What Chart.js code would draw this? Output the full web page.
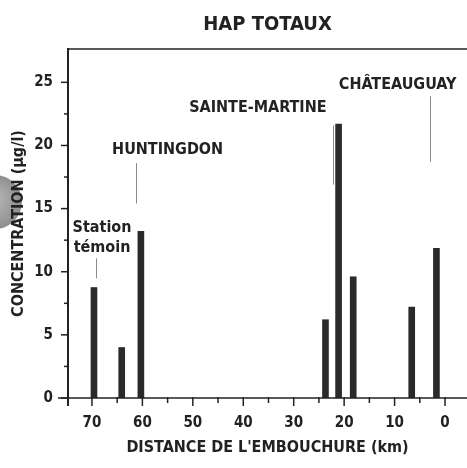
<!DOCTYPE html>
<html>
<head>
<meta charset="utf-8">
<script src="https://cdn.jsdelivr.net/npm/chart.js@4/dist/chart.umd.min.js"></script>
<style>
  html, body { margin: 0; padding: 0; background: #fff; }
  #wrap { width: 467px; height: 468px; position: relative; }
</style>
</head>
<body>
<div id="wrap"><canvas id="myChart"></canvas></div>
<script>
// distance from the river mouth (km) and total PAH concentration (ug/l)
const distanceKm = [69.6, 64.1, 60.3, 23.7, 21.1, 18.2, 6.6, 1.7];
const concentration = [8.75, 4.0, 13.2, 6.2, 21.7, 9.6, 7.2, 11.85];

const xTicks = [70, 60, 50, 40, 30, 20, 10, 0];
const yTicks = [0, 5, 10, 15, 20, 25];

// site labels, with text anchor and leader line in data units
const siteNames = [['Station', 'témoin'], ['HUNTINGDON'], ['SAINTE-MARTINE'], ['CHÂTEAUGUAY']];
const siteLabelKm = [68.0, 55.0, 37.1, 9.4];
const siteLabelConc = [12.7, 19.65, 23.0, 24.8];
const leaderKm = [69.2, 61.3, 22.3, 2.9];
const leaderFrom = [11.06, 18.6, 21.6, 23.9];
const leaderTo = [9.47, 15.4, 16.9, 18.7];

const FONT = "'Liberation Sans Narrow', 'DejaVu Sans Condensed', 'Roboto Condensed', sans-serif";
const INK = '#222';

const points = distanceKm.map((d, i) => ({ x: d, y: concentration[i] }));

const decor = {
    id: 'decor',
    beforeDraw(chart) {
        const ctx = chart.ctx;
        // grey punch-hole on the left border
        ctx.save();
        const g = ctx.createRadialGradient(-8, 198, 4, -5, 202, 27);
        g.addColorStop(0, '#b5b5b5');
        g.addColorStop(1, '#8e8e8e');
        ctx.fillStyle = g;
        ctx.beginPath();
        ctx.arc(-5, 202, 27, 0, Math.PI * 2);
        ctx.fill();
        ctx.restore();
    },
    afterDraw(chart) {
        const ctx = chart.ctx;
        const x = chart.scales.x, y = chart.scales.y;
        const a = chart.chartArea;
        const y0 = y.getPixelForValue(0);
        ctx.save();
        ctx.strokeStyle = INK;
        ctx.lineCap = 'butt';

        // frame
        ctx.lineWidth = 1.6;
        ctx.beginPath();
        ctx.moveTo(a.left, a.top);
        ctx.lineTo(a.right, a.top);
        ctx.stroke();
        ctx.lineWidth = 2;
        ctx.beginPath();
        ctx.moveTo(a.left, a.top - 1);
        ctx.lineTo(a.left, y0 + 8);
        ctx.stroke();
        ctx.lineWidth = 1.6;
        ctx.beginPath();
        ctx.moveTo(a.left - 10, y0);
        ctx.lineTo(a.right, y0);
        ctx.stroke();

        // x ticks
        ctx.lineWidth = 1.5;
        for (let k = 0; k <= 70; k += 5) {
            const px = x.getPixelForValue(k);
            const len = k % 10 === 0 ? 8 : 5;
            ctx.beginPath();
            ctx.moveTo(px, y0 - 1);
            ctx.lineTo(px, y0 + len);
            ctx.stroke();
        }
        // y ticks
        for (let v = 0; v <= 25; v += 2.5) {
            const py = y.getPixelForValue(v);
            const len = v % 5 === 0 ? 7 : 4;
            ctx.beginPath();
            ctx.moveTo(a.left - len, py);
            ctx.lineTo(a.left + 1, py);
            ctx.stroke();
        }

        // leader lines
        ctx.strokeStyle = '#8a8a8a';
        ctx.lineWidth = 1;
        for (let i = 0; i < siteNames.length; i++) {
            const px = Math.round(x.getPixelForValue(leaderKm[i])) + 0.5;
            ctx.beginPath();
            ctx.moveTo(px, y.getPixelForValue(leaderFrom[i]));
            ctx.lineTo(px, y.getPixelForValue(leaderTo[i]));
            ctx.stroke();
        }

        // site labels
        ctx.fillStyle = INK;
        ctx.font = 'bold 16px ' + FONT;
        ctx.textAlign = 'center';
        ctx.textBaseline = 'middle';
        for (let i = 0; i < siteNames.length; i++) {
            const px = x.getPixelForValue(siteLabelKm[i]);
            const py = y.getPixelForValue(siteLabelConc[i]);
            const lines = siteNames[i];
            const lh = 20;
            lines.forEach((t, j) => {
                ctx.fillText(t, px, py + (j - (lines.length - 1) / 2) * lh);
            });
        }
        ctx.restore();
    }
};

new Chart(document.getElementById('myChart'), {
    type: 'bar',
    data: {
        datasets: [{
            label: 'HAP totaux',
            data: points,
            backgroundColor: '#2a2a2a',
            borderWidth: 0,
            barThickness: 6
        }]
    },
    options: {
        responsive: true,
        maintainAspectRatio: false,
        animation: false,
        layout: { padding: 0 },
        plugins: {
            legend: { display: false },
            tooltip: { enabled: false },
            title: {
                display: true,
                fullSize: false,
                text: 'HAP TOTAUX',
                color: INK,
                font: { family: FONT, size: 20, weight: 'bold', lineHeight: 1.2 },
                padding: { top: 13, bottom: 12 }
            }
        },
        scales: {
            x: {
                type: 'linear',
                reverse: true,
                min: -4.36,
                max: 74.75,
                offset: false,
                grid: { display: false, drawTicks: false },
                border: { display: false },
                afterBuildTicks: s => { s.ticks = xTicks.map(v => ({ value: v })); },
                afterFit: s => { s.height = 70; },
                ticks: {
                    padding: 16,
                    color: INK,
                    maxRotation: 0,
                    font: { family: FONT, size: 15, weight: 'bold' }
                },
                title: {
                    display: true,
                    text: "DISTANCE DE L'EMBOUCHURE (km)",
                    color: INK,
                    font: { family: FONT, size: 16, weight: 'bold', lineHeight: 1.2 },
                    padding: { top: 0, bottom: 11 }
                }
            },
            y: {
                min: 0,
                max: 27.64,
                grid: { display: false, drawTicks: false },
                border: { display: false },
                afterBuildTicks: s => { s.ticks = yTicks.map(v => ({ value: v })); },
                afterFit: s => { s.width = 68; },
                ticks: {
                    padding: 15,
                    color: INK,
                    font: { family: FONT, size: 15, weight: 'bold' }
                },
                title: {
                    display: true,
                    text: 'CONCENTRATION (µg/l)',
                    color: INK,
                    font: { family: FONT, size: 16, weight: 'bold', lineHeight: 1.2 },
                    padding: { top: 9, bottom: 0 }
                }
            }
        }
    },
    plugins: [decor]
});
</script>
</body>
</html>
